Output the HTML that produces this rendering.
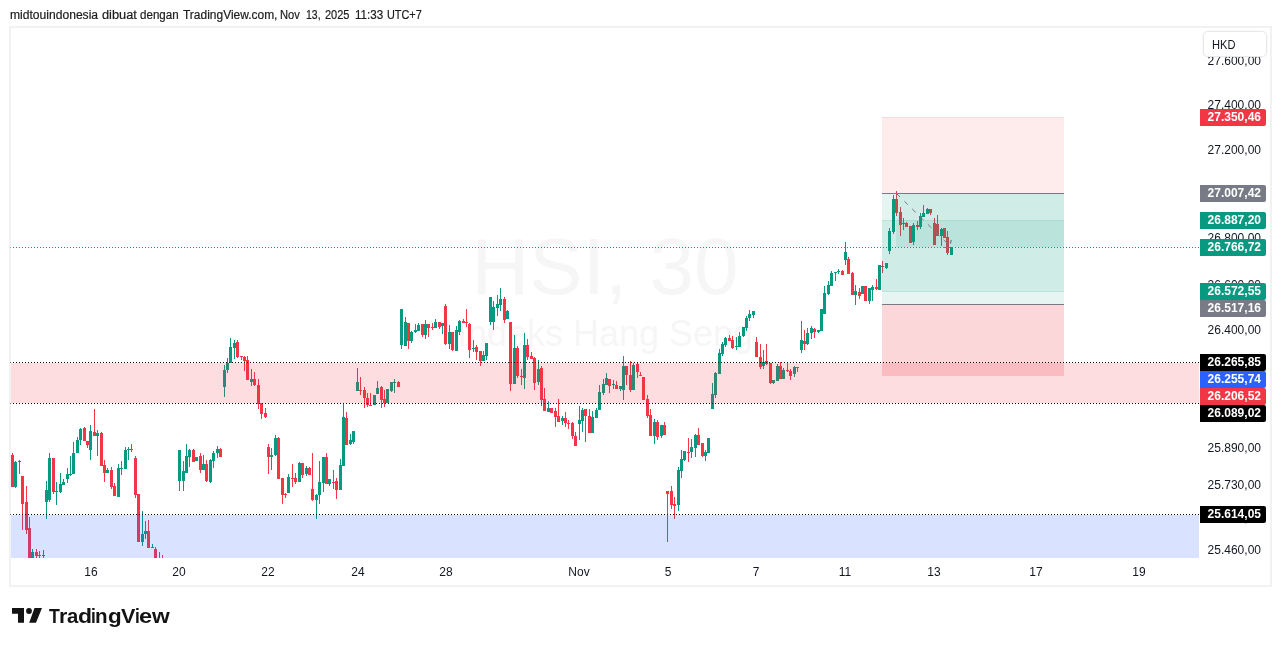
<!DOCTYPE html>
<html><head><meta charset="utf-8"><title>HSI</title>
<style>
*{margin:0;padding:0;box-sizing:border-box}
html,body{width:1281px;height:646px;background:#fff;overflow:hidden}
#hdr,#axis,#cur,.tl,#lt,.wm{will-change:transform}
body{position:relative;font-family:"Liberation Sans",sans-serif;color:#131722}
#hdr{position:absolute;left:10px;top:7px;width:430px;height:16px;font-size:12px;line-height:16px;white-space:nowrap;color:#1c1c1c;-webkit-text-stroke:0.2px #1c1c1c}
#hdr span{position:absolute;top:0;transform-origin:0 0;display:block}
#frame{position:absolute;left:9px;top:26px;width:1263px;height:561px;border:2px solid #f2f2f2;background:#fff}
#pane{position:absolute;left:11px;top:28px;width:1188px;height:530px;overflow:hidden}
#pane svg{position:absolute;left:-11px;top:-28px}
.wm{position:absolute;left:0;width:1188px;text-align:center;color:#f6f6f6;white-space:nowrap}
#wm1{top:194.3px;left:-0.5px;font-size:80px;line-height:90px}
#wm2{top:285.6px;left:-0.5px;font-size:36px;line-height:40px}
#axis{position:absolute;left:1199px;top:28px;width:71px;height:530px;overflow:hidden}
.pl{position:absolute;left:8.6px;font-size:12px;line-height:14px;height:14px;white-space:nowrap}
.bl{position:absolute;left:1px;width:66px;height:17px;border-radius:0 2px 2px 0;color:#fff;font-weight:bold;font-size:12px;line-height:16px;padding-left:7.6px;white-space:nowrap}
#cur{position:absolute;left:1203px;top:31px;width:64px;height:26px;box-shadow:0 0 0 1px rgba(0,0,0,0.025);border:1px solid #e9e9e9;border-radius:5px;background:#fff;font-size:12px;color:#131722}
#cur span{position:absolute;left:7.9px;top:5.5px;line-height:14px;transform-origin:0 0;transform:scaleX(0.926);display:block}
.tl{position:absolute;top:565px;width:40px;margin-left:-20px;text-align:center;font-size:12px;line-height:14px}
#logo{position:absolute;left:0;top:0}
#lt{position:absolute;left:0;top:603.5px;width:200px;height:24px;font-size:20.5px;line-height:24px;font-weight:bold;color:#131313;white-space:nowrap}
#lt span{position:absolute;top:0;display:block;transform-origin:0 0}
</style></head><body>

<div id="hdr">
<span style="left:-0.26px;transform:scaleX(1.0077)">midtouindonesia</span>
<span style="left:92.27px;transform:scaleX(1.0648)">dibuat</span>
<span style="left:130.42px;transform:scaleX(0.9652)">dengan</span>
<span style="left:172.75px;transform:scaleX(0.9971)">TradingView.com,</span>
<span style="left:270.47px;transform:scaleX(0.9284)">Nov</span>
<span style="left:296.43px;transform:scaleX(0.8752)">13,</span>
<span style="left:315.33px;transform:scaleX(0.9169)">2025</span>
<span style="left:344.95px;transform:scaleX(0.9697)">11:33</span>
<span style="left:377.20px;transform:scaleX(0.9059)">UTC+7</span>
</div>
<div id="frame"></div>
<div id="pane">
<div class="wm" id="wm1">HSI, 30</div><div class="wm" id="wm2">Indeks Hang Seng</div>
<svg width="1281" height="646" viewBox="0 0 1281 646" shape-rendering="crispEdges">
<rect x="12" y="453.1" width="1" height="33.6" fill="#F23645"/>
<rect x="11" y="454.6" width="3" height="32.0" fill="#F23645"/>
<rect x="15" y="460.9" width="1" height="26.9" fill="#089981"/>
<rect x="14" y="461.7" width="3" height="25.4" fill="#089981"/>
<rect x="19" y="459.8" width="1" height="13.9" fill="#089981"/>
<rect x="18" y="460.6" width="3" height="1.0" fill="#089981"/>
<rect x="22" y="476.0" width="1" height="53.6" fill="#F23645"/>
<rect x="21" y="476.0" width="3" height="27.5" fill="#F23645"/>
<rect x="26" y="485.9" width="1" height="47.8" fill="#F23645"/>
<rect x="25" y="502.0" width="3" height="27.6" fill="#F23645"/>
<rect x="29" y="516.8" width="1" height="46.8" fill="#F23645"/>
<rect x="28" y="528.1" width="3" height="35.6" fill="#F23645"/>
<rect x="32" y="548.8" width="1" height="14.8" fill="#089981"/>
<rect x="31" y="552.0" width="3" height="11.7" fill="#089981"/>
<rect x="36" y="548.8" width="1" height="14.8" fill="#F23645"/>
<rect x="35" y="552.0" width="3" height="3.6" fill="#F23645"/>
<rect x="39" y="551.2" width="1" height="12.5" fill="#F23645"/>
<rect x="38" y="554.8" width="3" height="1.0" fill="#F23645"/>
<rect x="43" y="549.9" width="1" height="13.7" fill="#089981"/>
<rect x="42" y="555.1" width="3" height="1.0" fill="#089981"/>
<rect x="46" y="481.2" width="1" height="37.5" fill="#089981"/>
<rect x="45" y="489.8" width="3" height="11.9" fill="#089981"/>
<rect x="49" y="453.1" width="1" height="48.6" fill="#089981"/>
<rect x="48" y="458.1" width="3" height="41.6" fill="#089981"/>
<rect x="53" y="458.1" width="1" height="35.6" fill="#F23645"/>
<rect x="52" y="458.1" width="3" height="34.0" fill="#F23645"/>
<rect x="56" y="482.0" width="1" height="22.7" fill="#089981"/>
<rect x="55" y="490.6" width="3" height="1.1" fill="#089981"/>
<rect x="60" y="473.1" width="1" height="19.8" fill="#089981"/>
<rect x="59" y="484.0" width="3" height="8.1" fill="#089981"/>
<rect x="63" y="479.2" width="1" height="5.5" fill="#089981"/>
<rect x="62" y="482.0" width="3" height="2.7" fill="#089981"/>
<rect x="67" y="468.2" width="1" height="14.5" fill="#089981"/>
<rect x="66" y="474.2" width="3" height="4.4" fill="#089981"/>
<rect x="70" y="456.2" width="1" height="19.5" fill="#089981"/>
<rect x="69" y="473.7" width="3" height="1.2" fill="#089981"/>
<rect x="73" y="442.2" width="1" height="31.5" fill="#089981"/>
<rect x="72" y="453.1" width="3" height="20.6" fill="#089981"/>
<rect x="77" y="437.2" width="1" height="15.5" fill="#089981"/>
<rect x="76" y="439.8" width="3" height="12.8" fill="#089981"/>
<rect x="80" y="427.8" width="1" height="16.7" fill="#089981"/>
<rect x="79" y="428.6" width="3" height="11.7" fill="#089981"/>
<rect x="84" y="426.9" width="1" height="13.7" fill="#F23645"/>
<rect x="83" y="427.8" width="3" height="12.8" fill="#F23645"/>
<rect x="87" y="440.6" width="1" height="7.0" fill="#F23645"/>
<rect x="86" y="440.6" width="3" height="4.4" fill="#F23645"/>
<rect x="90" y="425.0" width="1" height="34.7" fill="#089981"/>
<rect x="89" y="430.9" width="3" height="18.7" fill="#089981"/>
<rect x="94" y="409.1" width="1" height="26.5" fill="#F23645"/>
<rect x="93" y="432.0" width="3" height="3.6" fill="#F23645"/>
<rect x="97" y="430.0" width="1" height="25.8" fill="#089981"/>
<rect x="96" y="433.1" width="3" height="2.5" fill="#089981"/>
<rect x="101" y="431.7" width="1" height="33.9" fill="#F23645"/>
<rect x="100" y="432.5" width="3" height="33.1" fill="#F23645"/>
<rect x="104" y="460.1" width="1" height="21.5" fill="#F23645"/>
<rect x="103" y="465.3" width="3" height="7.3" fill="#F23645"/>
<rect x="107" y="467.9" width="1" height="4.7" fill="#089981"/>
<rect x="106" y="469.9" width="3" height="2.7" fill="#089981"/>
<rect x="111" y="467.1" width="1" height="21.5" fill="#F23645"/>
<rect x="110" y="469.8" width="3" height="16.9" fill="#F23645"/>
<rect x="114" y="482.7" width="1" height="12.8" fill="#F23645"/>
<rect x="113" y="485.9" width="3" height="9.7" fill="#F23645"/>
<rect x="118" y="464.0" width="1" height="32.8" fill="#089981"/>
<rect x="117" y="467.9" width="3" height="28.9" fill="#089981"/>
<rect x="121" y="460.9" width="1" height="13.7" fill="#089981"/>
<rect x="120" y="467.9" width="3" height="1.0" fill="#089981"/>
<rect x="125" y="446.8" width="1" height="21.9" fill="#089981"/>
<rect x="124" y="450.0" width="3" height="18.7" fill="#089981"/>
<rect x="128" y="446.8" width="1" height="12.8" fill="#089981"/>
<rect x="127" y="448.9" width="3" height="1.4" fill="#089981"/>
<rect x="131" y="444.0" width="1" height="7.5" fill="#F23645"/>
<rect x="130" y="449.2" width="3" height="1.0" fill="#F23645"/>
<rect x="135" y="455.9" width="1" height="41.7" fill="#F23645"/>
<rect x="134" y="457.8" width="3" height="36.7" fill="#F23645"/>
<rect x="138" y="494.0" width="1" height="47.8" fill="#F23645"/>
<rect x="137" y="494.0" width="3" height="47.8" fill="#F23645"/>
<rect x="142" y="511.1" width="1" height="35.0" fill="#089981"/>
<rect x="141" y="534.0" width="3" height="7.8" fill="#089981"/>
<rect x="145" y="520.7" width="1" height="18.0" fill="#089981"/>
<rect x="144" y="531.2" width="3" height="2.8" fill="#089981"/>
<rect x="148" y="520.0" width="1" height="27.6" fill="#F23645"/>
<rect x="147" y="531.2" width="3" height="16.4" fill="#F23645"/>
<rect x="152" y="544.2" width="1" height="3.6" fill="#089981"/>
<rect x="151" y="546.8" width="3" height="1.0" fill="#089981"/>
<rect x="155" y="546.8" width="1" height="16.9" fill="#F23645"/>
<rect x="154" y="548.8" width="3" height="14.8" fill="#F23645"/>
<rect x="159" y="552.0" width="1" height="48.0" fill="#089981"/>
<rect x="158" y="600.0" width="3" height="1.0" fill="#089981"/>
<rect x="162" y="554.8" width="1" height="45.2" fill="#F23645"/>
<rect x="161" y="600.0" width="3" height="1.0" fill="#F23645"/>
<rect x="179" y="450.0" width="1" height="40.6" fill="#089981"/>
<rect x="178" y="450.0" width="3" height="30.8" fill="#089981"/>
<rect x="183" y="460.9" width="1" height="29.7" fill="#089981"/>
<rect x="182" y="471.0" width="3" height="9.7" fill="#089981"/>
<rect x="186" y="444.2" width="1" height="28.4" fill="#089981"/>
<rect x="185" y="456.2" width="3" height="16.4" fill="#089981"/>
<rect x="189" y="448.7" width="1" height="18.1" fill="#089981"/>
<rect x="188" y="450.0" width="3" height="6.6" fill="#089981"/>
<rect x="193" y="448.7" width="1" height="13.0" fill="#F23645"/>
<rect x="192" y="450.0" width="3" height="11.7" fill="#F23645"/>
<rect x="196" y="457.3" width="1" height="4.1" fill="#089981"/>
<rect x="195" y="457.3" width="3" height="4.1" fill="#089981"/>
<rect x="200" y="453.1" width="1" height="19.5" fill="#F23645"/>
<rect x="199" y="455.9" width="3" height="13.6" fill="#F23645"/>
<rect x="203" y="455.0" width="1" height="14.5" fill="#089981"/>
<rect x="202" y="464.0" width="3" height="5.5" fill="#089981"/>
<rect x="206" y="460.1" width="1" height="22.3" fill="#F23645"/>
<rect x="205" y="464.0" width="3" height="17.2" fill="#F23645"/>
<rect x="210" y="459.0" width="1" height="23.7" fill="#089981"/>
<rect x="209" y="460.3" width="3" height="21.7" fill="#089981"/>
<rect x="213" y="450.9" width="1" height="16.7" fill="#089981"/>
<rect x="212" y="452.8" width="3" height="7.8" fill="#089981"/>
<rect x="217" y="446.1" width="1" height="11.9" fill="#089981"/>
<rect x="216" y="448.9" width="3" height="3.9" fill="#089981"/>
<rect x="220" y="447.8" width="1" height="8.9" fill="#F23645"/>
<rect x="219" y="448.9" width="3" height="7.8" fill="#F23645"/>
<rect x="224" y="365.1" width="1" height="31.7" fill="#089981"/>
<rect x="223" y="370.3" width="3" height="16.2" fill="#089981"/>
<rect x="227" y="358.1" width="1" height="14.4" fill="#089981"/>
<rect x="226" y="362.8" width="3" height="7.0" fill="#089981"/>
<rect x="230" y="337.8" width="1" height="25.4" fill="#089981"/>
<rect x="229" y="347.2" width="3" height="16.1" fill="#089981"/>
<rect x="234" y="340.1" width="1" height="18.7" fill="#089981"/>
<rect x="233" y="343.3" width="3" height="4.2" fill="#089981"/>
<rect x="237" y="340.1" width="1" height="18.0" fill="#F23645"/>
<rect x="236" y="341.7" width="3" height="15.6" fill="#F23645"/>
<rect x="241" y="356.2" width="1" height="3.4" fill="#F23645"/>
<rect x="240" y="356.2" width="3" height="1.0" fill="#F23645"/>
<rect x="244" y="356.2" width="1" height="14.7" fill="#F23645"/>
<rect x="243" y="356.9" width="3" height="3.6" fill="#F23645"/>
<rect x="247" y="356.2" width="1" height="24.2" fill="#F23645"/>
<rect x="246" y="360.4" width="3" height="20.0" fill="#F23645"/>
<rect x="251" y="369.0" width="1" height="16.7" fill="#089981"/>
<rect x="250" y="379.2" width="3" height="2.3" fill="#089981"/>
<rect x="254" y="372.2" width="1" height="13.6" fill="#F23645"/>
<rect x="253" y="379.2" width="3" height="5.8" fill="#F23645"/>
<rect x="258" y="379.2" width="1" height="29.4" fill="#F23645"/>
<rect x="257" y="384.6" width="3" height="19.0" fill="#F23645"/>
<rect x="261" y="403.4" width="1" height="15.3" fill="#F23645"/>
<rect x="260" y="403.4" width="3" height="10.6" fill="#F23645"/>
<rect x="265" y="408.1" width="1" height="9.4" fill="#F23645"/>
<rect x="264" y="413.2" width="3" height="4.2" fill="#F23645"/>
<rect x="268" y="444.2" width="1" height="29.7" fill="#F23645"/>
<rect x="267" y="446.9" width="3" height="9.8" fill="#F23645"/>
<rect x="271" y="448.1" width="1" height="21.9" fill="#089981"/>
<rect x="270" y="455.4" width="3" height="1.2" fill="#089981"/>
<rect x="275" y="435.1" width="1" height="20.5" fill="#089981"/>
<rect x="274" y="438.0" width="3" height="16.7" fill="#089981"/>
<rect x="278" y="436.9" width="1" height="41.7" fill="#F23645"/>
<rect x="277" y="438.0" width="3" height="40.6" fill="#F23645"/>
<rect x="282" y="478.1" width="1" height="25.8" fill="#F23645"/>
<rect x="281" y="478.1" width="3" height="16.5" fill="#F23645"/>
<rect x="285" y="492.6" width="1" height="5.0" fill="#F23645"/>
<rect x="284" y="493.7" width="3" height="1.0" fill="#F23645"/>
<rect x="288" y="474.2" width="1" height="18.4" fill="#089981"/>
<rect x="287" y="477.0" width="3" height="15.6" fill="#089981"/>
<rect x="292" y="464.0" width="1" height="22.8" fill="#F23645"/>
<rect x="291" y="477.5" width="3" height="1.2" fill="#F23645"/>
<rect x="295" y="473.1" width="1" height="11.2" fill="#F23645"/>
<rect x="294" y="478.1" width="3" height="3.6" fill="#F23645"/>
<rect x="299" y="461.8" width="1" height="19.8" fill="#089981"/>
<rect x="298" y="462.9" width="3" height="18.7" fill="#089981"/>
<rect x="302" y="463.2" width="1" height="14.5" fill="#F23645"/>
<rect x="301" y="463.2" width="3" height="11.4" fill="#F23645"/>
<rect x="306" y="466.1" width="1" height="9.4" fill="#089981"/>
<rect x="305" y="468.1" width="3" height="5.8" fill="#089981"/>
<rect x="309" y="467.2" width="1" height="7.5" fill="#F23645"/>
<rect x="308" y="468.1" width="3" height="6.6" fill="#F23645"/>
<rect x="312" y="453.1" width="1" height="47.8" fill="#F23645"/>
<rect x="311" y="489.0" width="3" height="10.9" fill="#F23645"/>
<rect x="316" y="493.7" width="1" height="25.0" fill="#089981"/>
<rect x="315" y="494.9" width="3" height="5.0" fill="#089981"/>
<rect x="319" y="461.1" width="1" height="42.8" fill="#089981"/>
<rect x="318" y="482.1" width="3" height="12.8" fill="#089981"/>
<rect x="323" y="457.2" width="1" height="34.7" fill="#089981"/>
<rect x="322" y="457.2" width="3" height="25.6" fill="#089981"/>
<rect x="326" y="453.1" width="1" height="30.6" fill="#F23645"/>
<rect x="325" y="457.2" width="3" height="26.5" fill="#F23645"/>
<rect x="329" y="479.3" width="1" height="6.6" fill="#089981"/>
<rect x="328" y="479.3" width="3" height="4.4" fill="#089981"/>
<rect x="333" y="470.0" width="1" height="19.0" fill="#F23645"/>
<rect x="332" y="482.0" width="3" height="1.0" fill="#F23645"/>
<rect x="336" y="478.1" width="1" height="20.8" fill="#F23645"/>
<rect x="335" y="480.9" width="3" height="8.9" fill="#F23645"/>
<rect x="340" y="459.0" width="1" height="30.8" fill="#089981"/>
<rect x="339" y="465.3" width="3" height="24.5" fill="#089981"/>
<rect x="343" y="403.4" width="1" height="62.2" fill="#089981"/>
<rect x="342" y="417.1" width="3" height="48.5" fill="#089981"/>
<rect x="346" y="412.0" width="1" height="32.5" fill="#F23645"/>
<rect x="345" y="418.2" width="3" height="26.3" fill="#F23645"/>
<rect x="350" y="434.1" width="1" height="10.9" fill="#089981"/>
<rect x="349" y="440.3" width="3" height="3.9" fill="#089981"/>
<rect x="353" y="431.2" width="1" height="12.5" fill="#089981"/>
<rect x="352" y="431.2" width="3" height="10.3" fill="#089981"/>
<rect x="357" y="367.9" width="1" height="23.0" fill="#089981"/>
<rect x="356" y="382.3" width="3" height="8.6" fill="#089981"/>
<rect x="360" y="376.8" width="1" height="18.0" fill="#F23645"/>
<rect x="359" y="389.6" width="3" height="1.0" fill="#F23645"/>
<rect x="364" y="387.0" width="1" height="20.8" fill="#F23645"/>
<rect x="363" y="390.1" width="3" height="8.3" fill="#F23645"/>
<rect x="367" y="392.9" width="1" height="14.4" fill="#F23645"/>
<rect x="366" y="397.9" width="3" height="7.3" fill="#F23645"/>
<rect x="370" y="392.9" width="1" height="12.8" fill="#F23645"/>
<rect x="369" y="404.9" width="3" height="1.0" fill="#F23645"/>
<rect x="374" y="395.3" width="1" height="9.4" fill="#089981"/>
<rect x="373" y="395.3" width="3" height="9.4" fill="#089981"/>
<rect x="377" y="381.1" width="1" height="12.5" fill="#089981"/>
<rect x="376" y="388.1" width="3" height="5.5" fill="#089981"/>
<rect x="381" y="385.9" width="1" height="21.9" fill="#F23645"/>
<rect x="380" y="387.0" width="3" height="12.5" fill="#F23645"/>
<rect x="384" y="390.1" width="1" height="16.4" fill="#F23645"/>
<rect x="383" y="398.7" width="3" height="3.9" fill="#F23645"/>
<rect x="387" y="389.0" width="1" height="13.9" fill="#089981"/>
<rect x="386" y="389.0" width="3" height="13.9" fill="#089981"/>
<rect x="391" y="382.3" width="1" height="9.4" fill="#089981"/>
<rect x="390" y="382.3" width="3" height="8.6" fill="#089981"/>
<rect x="394" y="378.9" width="1" height="13.9" fill="#089981"/>
<rect x="393" y="382.1" width="3" height="1.0" fill="#089981"/>
<rect x="398" y="380.7" width="1" height="5.8" fill="#F23645"/>
<rect x="397" y="382.0" width="3" height="4.5" fill="#F23645"/>
<rect x="401" y="308.9" width="1" height="39.8" fill="#089981"/>
<rect x="400" y="308.9" width="3" height="35.9" fill="#089981"/>
<rect x="405" y="317.2" width="1" height="28.4" fill="#089981"/>
<rect x="404" y="321.8" width="3" height="23.7" fill="#089981"/>
<rect x="408" y="322.9" width="1" height="25.8" fill="#F23645"/>
<rect x="407" y="322.9" width="3" height="18.0" fill="#F23645"/>
<rect x="411" y="330.7" width="1" height="12.5" fill="#089981"/>
<rect x="410" y="332.0" width="3" height="8.9" fill="#089981"/>
<rect x="415" y="324.2" width="1" height="8.4" fill="#089981"/>
<rect x="414" y="330.0" width="3" height="1.6" fill="#089981"/>
<rect x="418" y="322.9" width="1" height="7.8" fill="#089981"/>
<rect x="417" y="325.0" width="3" height="5.8" fill="#089981"/>
<rect x="422" y="324.2" width="1" height="12.3" fill="#F23645"/>
<rect x="421" y="324.2" width="3" height="10.8" fill="#F23645"/>
<rect x="425" y="320.1" width="1" height="18.4" fill="#089981"/>
<rect x="424" y="324.2" width="3" height="10.5" fill="#089981"/>
<rect x="428" y="324.2" width="1" height="12.3" fill="#F23645"/>
<rect x="427" y="324.2" width="3" height="3.9" fill="#F23645"/>
<rect x="432" y="322.9" width="1" height="6.7" fill="#F23645"/>
<rect x="431" y="326.7" width="3" height="1.0" fill="#F23645"/>
<rect x="435" y="319.0" width="1" height="8.6" fill="#089981"/>
<rect x="434" y="321.8" width="3" height="5.8" fill="#089981"/>
<rect x="439" y="322.2" width="1" height="6.6" fill="#F23645"/>
<rect x="438" y="322.2" width="3" height="4.7" fill="#F23645"/>
<rect x="442" y="323.2" width="1" height="10.6" fill="#089981"/>
<rect x="441" y="323.2" width="3" height="2.5" fill="#089981"/>
<rect x="445" y="304.2" width="1" height="40.6" fill="#F23645"/>
<rect x="444" y="305.8" width="3" height="38.3" fill="#F23645"/>
<rect x="449" y="325.3" width="1" height="23.4" fill="#089981"/>
<rect x="448" y="332.3" width="3" height="11.4" fill="#089981"/>
<rect x="452" y="332.3" width="1" height="18.4" fill="#F23645"/>
<rect x="451" y="332.3" width="3" height="17.6" fill="#F23645"/>
<rect x="456" y="326.1" width="1" height="24.7" fill="#089981"/>
<rect x="455" y="330.0" width="3" height="20.8" fill="#089981"/>
<rect x="459" y="319.8" width="1" height="14.8" fill="#089981"/>
<rect x="458" y="320.9" width="3" height="10.6" fill="#089981"/>
<rect x="463" y="319.0" width="1" height="3.4" fill="#F23645"/>
<rect x="462" y="320.9" width="3" height="1.6" fill="#F23645"/>
<rect x="466" y="308.9" width="1" height="17.6" fill="#F23645"/>
<rect x="465" y="321.7" width="3" height="1.0" fill="#F23645"/>
<rect x="469" y="322.9" width="1" height="34.7" fill="#F23645"/>
<rect x="468" y="323.7" width="3" height="26.1" fill="#F23645"/>
<rect x="473" y="340.1" width="1" height="11.7" fill="#089981"/>
<rect x="472" y="347.8" width="3" height="1.0" fill="#089981"/>
<rect x="476" y="345.3" width="1" height="14.4" fill="#F23645"/>
<rect x="475" y="347.4" width="3" height="4.4" fill="#F23645"/>
<rect x="480" y="351.0" width="1" height="14.5" fill="#F23645"/>
<rect x="479" y="351.0" width="3" height="9.8" fill="#F23645"/>
<rect x="483" y="351.0" width="1" height="10.1" fill="#089981"/>
<rect x="482" y="354.9" width="3" height="6.2" fill="#089981"/>
<rect x="486" y="342.9" width="1" height="17.2" fill="#089981"/>
<rect x="485" y="342.9" width="3" height="12.8" fill="#089981"/>
<rect x="490" y="297.2" width="1" height="27.3" fill="#089981"/>
<rect x="489" y="297.2" width="3" height="24.7" fill="#089981"/>
<rect x="493" y="301.1" width="1" height="28.6" fill="#089981"/>
<rect x="492" y="307.3" width="3" height="15.1" fill="#089981"/>
<rect x="497" y="295.1" width="1" height="20.5" fill="#089981"/>
<rect x="496" y="304.2" width="3" height="3.6" fill="#089981"/>
<rect x="500" y="288.1" width="1" height="22.6" fill="#089981"/>
<rect x="499" y="299.0" width="3" height="5.6" fill="#089981"/>
<rect x="504" y="297.2" width="1" height="25.4" fill="#F23645"/>
<rect x="503" y="298.7" width="3" height="21.1" fill="#F23645"/>
<rect x="507" y="310.0" width="1" height="9.4" fill="#089981"/>
<rect x="506" y="310.9" width="3" height="8.4" fill="#089981"/>
<rect x="510" y="322.2" width="1" height="68.6" fill="#F23645"/>
<rect x="509" y="322.2" width="3" height="61.6" fill="#F23645"/>
<rect x="514" y="335.0" width="1" height="48.8" fill="#089981"/>
<rect x="513" y="347.9" width="3" height="35.8" fill="#089981"/>
<rect x="517" y="345.9" width="1" height="32.1" fill="#F23645"/>
<rect x="516" y="347.6" width="3" height="28.3" fill="#F23645"/>
<rect x="521" y="369.1" width="1" height="15.6" fill="#F23645"/>
<rect x="520" y="375.6" width="3" height="1.6" fill="#F23645"/>
<rect x="524" y="333.1" width="1" height="55.8" fill="#089981"/>
<rect x="523" y="345.3" width="3" height="32.2" fill="#089981"/>
<rect x="527" y="339.0" width="1" height="20.6" fill="#F23645"/>
<rect x="526" y="345.3" width="3" height="11.2" fill="#F23645"/>
<rect x="531" y="351.8" width="1" height="7.0" fill="#F23645"/>
<rect x="530" y="355.7" width="3" height="3.1" fill="#F23645"/>
<rect x="534" y="356.8" width="1" height="32.8" fill="#F23645"/>
<rect x="533" y="358.1" width="3" height="24.6" fill="#F23645"/>
<rect x="538" y="359.9" width="1" height="24.7" fill="#089981"/>
<rect x="537" y="369.0" width="3" height="12.9" fill="#089981"/>
<rect x="541" y="365.9" width="1" height="39.7" fill="#F23645"/>
<rect x="540" y="367.8" width="3" height="32.0" fill="#F23645"/>
<rect x="544" y="388.1" width="1" height="23.1" fill="#F23645"/>
<rect x="543" y="399.0" width="3" height="12.2" fill="#F23645"/>
<rect x="548" y="400.9" width="1" height="10.6" fill="#089981"/>
<rect x="547" y="408.1" width="3" height="3.4" fill="#089981"/>
<rect x="551" y="408.1" width="1" height="4.5" fill="#F23645"/>
<rect x="550" y="408.1" width="3" height="4.5" fill="#F23645"/>
<rect x="555" y="408.1" width="1" height="18.6" fill="#F23645"/>
<rect x="554" y="410.7" width="3" height="5.8" fill="#F23645"/>
<rect x="558" y="399.0" width="1" height="22.6" fill="#F23645"/>
<rect x="557" y="415.9" width="3" height="5.8" fill="#F23645"/>
<rect x="562" y="415.9" width="1" height="8.9" fill="#089981"/>
<rect x="561" y="418.1" width="3" height="3.3" fill="#089981"/>
<rect x="565" y="412.0" width="1" height="14.7" fill="#F23645"/>
<rect x="564" y="418.1" width="3" height="4.7" fill="#F23645"/>
<rect x="568" y="420.1" width="1" height="8.6" fill="#F23645"/>
<rect x="567" y="422.8" width="3" height="1.0" fill="#F23645"/>
<rect x="572" y="422.0" width="1" height="16.9" fill="#F23645"/>
<rect x="571" y="422.9" width="3" height="12.8" fill="#F23645"/>
<rect x="575" y="431.8" width="1" height="13.7" fill="#F23645"/>
<rect x="574" y="435.7" width="3" height="9.8" fill="#F23645"/>
<rect x="579" y="406.1" width="1" height="33.6" fill="#089981"/>
<rect x="578" y="420.1" width="3" height="3.6" fill="#089981"/>
<rect x="582" y="408.1" width="1" height="23.7" fill="#089981"/>
<rect x="581" y="410.0" width="3" height="11.4" fill="#089981"/>
<rect x="585" y="409.2" width="1" height="32.5" fill="#F23645"/>
<rect x="584" y="409.2" width="3" height="6.6" fill="#F23645"/>
<rect x="589" y="409.2" width="1" height="23.4" fill="#F23645"/>
<rect x="588" y="415.9" width="3" height="16.7" fill="#F23645"/>
<rect x="592" y="411.0" width="1" height="21.9" fill="#089981"/>
<rect x="591" y="417.3" width="3" height="15.6" fill="#089981"/>
<rect x="596" y="407.9" width="1" height="9.7" fill="#089981"/>
<rect x="595" y="409.9" width="3" height="7.7" fill="#089981"/>
<rect x="599" y="385.0" width="1" height="24.8" fill="#089981"/>
<rect x="598" y="392.3" width="3" height="17.5" fill="#089981"/>
<rect x="603" y="379.0" width="1" height="15.9" fill="#089981"/>
<rect x="602" y="384.2" width="3" height="8.9" fill="#089981"/>
<rect x="606" y="372.8" width="1" height="12.5" fill="#089981"/>
<rect x="605" y="378.3" width="3" height="7.0" fill="#089981"/>
<rect x="609" y="378.7" width="1" height="13.9" fill="#F23645"/>
<rect x="608" y="378.7" width="3" height="7.0" fill="#F23645"/>
<rect x="613" y="379.8" width="1" height="8.9" fill="#089981"/>
<rect x="612" y="384.0" width="3" height="1.0" fill="#089981"/>
<rect x="616" y="380.9" width="1" height="7.8" fill="#F23645"/>
<rect x="615" y="385.3" width="3" height="3.4" fill="#F23645"/>
<rect x="620" y="386.1" width="1" height="4.7" fill="#089981"/>
<rect x="619" y="386.1" width="3" height="2.7" fill="#089981"/>
<rect x="623" y="355.9" width="1" height="43.9" fill="#089981"/>
<rect x="622" y="365.8" width="3" height="23.9" fill="#089981"/>
<rect x="626" y="366.2" width="1" height="18.3" fill="#F23645"/>
<rect x="625" y="366.2" width="3" height="8.4" fill="#F23645"/>
<rect x="630" y="361.1" width="1" height="30.8" fill="#F23645"/>
<rect x="629" y="375.1" width="3" height="15.1" fill="#F23645"/>
<rect x="633" y="363.4" width="1" height="26.2" fill="#089981"/>
<rect x="632" y="364.7" width="3" height="25.0" fill="#089981"/>
<rect x="637" y="362.3" width="1" height="15.5" fill="#F23645"/>
<rect x="636" y="364.2" width="3" height="7.8" fill="#F23645"/>
<rect x="640" y="372.0" width="1" height="4.1" fill="#F23645"/>
<rect x="639" y="375.1" width="3" height="1.0" fill="#F23645"/>
<rect x="643" y="377.0" width="1" height="22.6" fill="#F23645"/>
<rect x="642" y="377.0" width="3" height="22.6" fill="#F23645"/>
<rect x="647" y="395.0" width="1" height="22.8" fill="#F23645"/>
<rect x="646" y="399.0" width="3" height="16.7" fill="#F23645"/>
<rect x="650" y="409.2" width="1" height="26.4" fill="#F23645"/>
<rect x="649" y="415.3" width="3" height="20.3" fill="#F23645"/>
<rect x="654" y="418.8" width="1" height="24.9" fill="#089981"/>
<rect x="653" y="421.5" width="3" height="14.1" fill="#089981"/>
<rect x="657" y="419.6" width="1" height="20.2" fill="#F23645"/>
<rect x="656" y="422.0" width="3" height="14.7" fill="#F23645"/>
<rect x="661" y="424.8" width="1" height="12.8" fill="#089981"/>
<rect x="660" y="424.8" width="3" height="10.8" fill="#089981"/>
<rect x="664" y="422.0" width="1" height="12.5" fill="#F23645"/>
<rect x="663" y="424.8" width="3" height="9.7" fill="#F23645"/>
<rect x="667" y="491.4" width="1" height="50.7" fill="#F23645"/>
<rect x="666" y="491.4" width="3" height="2.3" fill="#F23645"/>
<rect x="671" y="486.2" width="1" height="22.6" fill="#F23645"/>
<rect x="670" y="491.4" width="3" height="13.3" fill="#F23645"/>
<rect x="674" y="497.1" width="1" height="21.5" fill="#F23645"/>
<rect x="673" y="504.2" width="3" height="1.6" fill="#F23645"/>
<rect x="678" y="467.2" width="1" height="43.4" fill="#089981"/>
<rect x="677" y="470.3" width="3" height="34.3" fill="#089981"/>
<rect x="681" y="450.0" width="1" height="27.6" fill="#089981"/>
<rect x="680" y="459.0" width="3" height="11.6" fill="#089981"/>
<rect x="684" y="451.2" width="1" height="9.7" fill="#089981"/>
<rect x="683" y="451.2" width="3" height="8.4" fill="#089981"/>
<rect x="688" y="438.3" width="1" height="23.4" fill="#F23645"/>
<rect x="687" y="451.9" width="3" height="1.0" fill="#F23645"/>
<rect x="691" y="439.1" width="1" height="18.7" fill="#089981"/>
<rect x="690" y="447.2" width="3" height="4.4" fill="#089981"/>
<rect x="695" y="434.1" width="1" height="22.6" fill="#089981"/>
<rect x="694" y="435.1" width="3" height="12.5" fill="#089981"/>
<rect x="698" y="428.1" width="1" height="16.4" fill="#F23645"/>
<rect x="697" y="435.1" width="3" height="9.4" fill="#F23645"/>
<rect x="702" y="443.3" width="1" height="13.4" fill="#F23645"/>
<rect x="701" y="443.3" width="3" height="12.6" fill="#F23645"/>
<rect x="705" y="450.0" width="1" height="10.6" fill="#089981"/>
<rect x="704" y="452.3" width="3" height="3.4" fill="#089981"/>
<rect x="708" y="438.3" width="1" height="14.5" fill="#089981"/>
<rect x="707" y="438.3" width="3" height="14.5" fill="#089981"/>
<rect x="712" y="383.2" width="1" height="26.2" fill="#089981"/>
<rect x="711" y="394.3" width="3" height="15.1" fill="#089981"/>
<rect x="715" y="372.0" width="1" height="25.8" fill="#089981"/>
<rect x="714" y="372.8" width="3" height="21.9" fill="#089981"/>
<rect x="719" y="349.0" width="1" height="24.5" fill="#089981"/>
<rect x="718" y="353.2" width="3" height="20.3" fill="#089981"/>
<rect x="722" y="342.3" width="1" height="13.3" fill="#089981"/>
<rect x="721" y="344.3" width="3" height="9.7" fill="#089981"/>
<rect x="725" y="336.8" width="1" height="9.7" fill="#089981"/>
<rect x="724" y="338.1" width="3" height="6.9" fill="#089981"/>
<rect x="729" y="335.3" width="1" height="5.5" fill="#F23645"/>
<rect x="728" y="338.4" width="3" height="2.3" fill="#F23645"/>
<rect x="732" y="336.1" width="1" height="13.0" fill="#F23645"/>
<rect x="731" y="340.3" width="3" height="7.5" fill="#F23645"/>
<rect x="736" y="336.8" width="1" height="13.0" fill="#089981"/>
<rect x="735" y="345.7" width="3" height="1.0" fill="#089981"/>
<rect x="739" y="331.8" width="1" height="14.7" fill="#089981"/>
<rect x="738" y="335.7" width="3" height="10.8" fill="#089981"/>
<rect x="743" y="327.2" width="1" height="9.7" fill="#089981"/>
<rect x="742" y="327.2" width="3" height="8.9" fill="#089981"/>
<rect x="746" y="316.2" width="1" height="15.1" fill="#089981"/>
<rect x="745" y="317.8" width="3" height="9.7" fill="#089981"/>
<rect x="749" y="310.0" width="1" height="10.8" fill="#089981"/>
<rect x="748" y="314.2" width="3" height="3.9" fill="#089981"/>
<rect x="753" y="311.1" width="1" height="7.0" fill="#089981"/>
<rect x="752" y="311.1" width="3" height="3.9" fill="#089981"/>
<rect x="756" y="336.8" width="1" height="19.8" fill="#F23645"/>
<rect x="755" y="342.3" width="3" height="14.4" fill="#F23645"/>
<rect x="760" y="344.2" width="1" height="24.7" fill="#F23645"/>
<rect x="759" y="357.1" width="3" height="9.7" fill="#F23645"/>
<rect x="763" y="349.8" width="1" height="18.7" fill="#089981"/>
<rect x="762" y="361.5" width="3" height="4.2" fill="#089981"/>
<rect x="766" y="344.2" width="1" height="20.5" fill="#F23645"/>
<rect x="765" y="361.0" width="3" height="2.7" fill="#F23645"/>
<rect x="770" y="363.4" width="1" height="20.3" fill="#F23645"/>
<rect x="769" y="363.4" width="3" height="19.5" fill="#F23645"/>
<rect x="773" y="380.2" width="1" height="3.4" fill="#089981"/>
<rect x="772" y="380.2" width="3" height="2.7" fill="#089981"/>
<rect x="777" y="364.2" width="1" height="17.2" fill="#089981"/>
<rect x="776" y="365.7" width="3" height="15.6" fill="#089981"/>
<rect x="780" y="362.1" width="1" height="16.5" fill="#F23645"/>
<rect x="779" y="366.2" width="3" height="12.5" fill="#F23645"/>
<rect x="783" y="368.1" width="1" height="10.5" fill="#089981"/>
<rect x="782" y="369.9" width="3" height="8.6" fill="#089981"/>
<rect x="787" y="362.6" width="1" height="8.9" fill="#F23645"/>
<rect x="786" y="369.9" width="3" height="1.0" fill="#F23645"/>
<rect x="790" y="368.8" width="1" height="10.9" fill="#F23645"/>
<rect x="789" y="371.2" width="3" height="4.4" fill="#F23645"/>
<rect x="794" y="366.0" width="1" height="11.4" fill="#089981"/>
<rect x="793" y="366.8" width="3" height="7.5" fill="#089981"/>
<rect x="797" y="367.0" width="1" height="5.0" fill="#F23645"/>
<rect x="796" y="367.0" width="3" height="1.0" fill="#F23645"/>
<rect x="801" y="321.2" width="1" height="31.5" fill="#089981"/>
<rect x="800" y="340.3" width="3" height="9.8" fill="#089981"/>
<rect x="804" y="330.1" width="1" height="19.7" fill="#F23645"/>
<rect x="803" y="341.2" width="3" height="2.7" fill="#F23645"/>
<rect x="807" y="327.9" width="1" height="16.7" fill="#089981"/>
<rect x="806" y="332.9" width="3" height="10.9" fill="#089981"/>
<rect x="811" y="325.9" width="1" height="12.8" fill="#089981"/>
<rect x="810" y="327.9" width="3" height="5.0" fill="#089981"/>
<rect x="814" y="327.9" width="1" height="9.7" fill="#F23645"/>
<rect x="813" y="329.0" width="3" height="2.8" fill="#F23645"/>
<rect x="818" y="330.3" width="1" height="2.3" fill="#089981"/>
<rect x="817" y="330.3" width="3" height="1.6" fill="#089981"/>
<rect x="821" y="309.0" width="1" height="21.9" fill="#089981"/>
<rect x="820" y="309.0" width="3" height="21.9" fill="#089981"/>
<rect x="824" y="286.0" width="1" height="27.8" fill="#089981"/>
<rect x="823" y="293.1" width="3" height="20.8" fill="#089981"/>
<rect x="828" y="281.0" width="1" height="13.7" fill="#089981"/>
<rect x="827" y="284.9" width="3" height="8.9" fill="#089981"/>
<rect x="831" y="270.9" width="1" height="14.8" fill="#089981"/>
<rect x="830" y="272.5" width="3" height="13.3" fill="#089981"/>
<rect x="835" y="272.0" width="1" height="8.6" fill="#089981"/>
<rect x="834" y="272.0" width="3" height="1.0" fill="#089981"/>
<rect x="838" y="269.0" width="1" height="5.3" fill="#089981"/>
<rect x="837" y="270.6" width="3" height="1.6" fill="#089981"/>
<rect x="842" y="269.8" width="1" height="4.7" fill="#F23645"/>
<rect x="841" y="270.9" width="3" height="3.6" fill="#F23645"/>
<rect x="845" y="242.0" width="1" height="22.6" fill="#089981"/>
<rect x="844" y="251.8" width="3" height="8.1" fill="#089981"/>
<rect x="848" y="256.8" width="1" height="17.6" fill="#F23645"/>
<rect x="847" y="258.7" width="3" height="15.0" fill="#F23645"/>
<rect x="852" y="272.0" width="1" height="22.6" fill="#F23645"/>
<rect x="851" y="272.8" width="3" height="21.9" fill="#F23645"/>
<rect x="855" y="285.3" width="1" height="19.2" fill="#089981"/>
<rect x="854" y="291.2" width="3" height="3.4" fill="#089981"/>
<rect x="859" y="288.1" width="1" height="10.5" fill="#F23645"/>
<rect x="858" y="292.0" width="3" height="3.9" fill="#F23645"/>
<rect x="862" y="286.2" width="1" height="7.3" fill="#089981"/>
<rect x="861" y="286.2" width="3" height="7.3" fill="#089981"/>
<rect x="865" y="286.2" width="1" height="15.1" fill="#F23645"/>
<rect x="864" y="286.2" width="3" height="15.1" fill="#F23645"/>
<rect x="869" y="288.1" width="1" height="15.6" fill="#089981"/>
<rect x="868" y="288.1" width="3" height="13.3" fill="#089981"/>
<rect x="872" y="284.9" width="1" height="15.6" fill="#089981"/>
<rect x="871" y="286.5" width="3" height="3.1" fill="#089981"/>
<rect x="876" y="279.2" width="1" height="10.8" fill="#F23645"/>
<rect x="875" y="286.8" width="3" height="2.0" fill="#F23645"/>
<rect x="879" y="265.0" width="1" height="24.7" fill="#089981"/>
<rect x="878" y="265.0" width="3" height="24.7" fill="#089981"/>
<rect x="882" y="260.7" width="1" height="12.2" fill="#F23645"/>
<rect x="881" y="265.7" width="3" height="1.0" fill="#F23645"/>
<rect x="886" y="263.1" width="1" height="5.9" fill="#089981"/>
<rect x="885" y="263.1" width="3" height="4.4" fill="#089981"/>
<rect x="889" y="228.1" width="1" height="25.6" fill="#089981"/>
<rect x="888" y="230.6" width="3" height="20.2" fill="#089981"/>
<rect x="893" y="195.0" width="1" height="38.7" fill="#089981"/>
<rect x="892" y="198.7" width="3" height="32.9" fill="#089981"/>
<rect x="896" y="191.0" width="1" height="24.9" fill="#F23645"/>
<rect x="895" y="198.7" width="3" height="14.0" fill="#F23645"/>
<rect x="900" y="206.9" width="1" height="28.7" fill="#F23645"/>
<rect x="899" y="211.9" width="3" height="12.7" fill="#F23645"/>
<rect x="903" y="218.1" width="1" height="11.5" fill="#089981"/>
<rect x="902" y="223.3" width="3" height="1.0" fill="#089981"/>
<rect x="906" y="221.8" width="1" height="4.7" fill="#F23645"/>
<rect x="905" y="222.8" width="3" height="3.7" fill="#F23645"/>
<rect x="910" y="226.0" width="1" height="16.5" fill="#F23645"/>
<rect x="909" y="226.0" width="3" height="16.5" fill="#F23645"/>
<rect x="913" y="223.1" width="1" height="21.6" fill="#089981"/>
<rect x="912" y="225.0" width="3" height="16.9" fill="#089981"/>
<rect x="917" y="221.0" width="1" height="8.6" fill="#F23645"/>
<rect x="916" y="225.0" width="3" height="2.2" fill="#F23645"/>
<rect x="920" y="213.1" width="1" height="15.6" fill="#089981"/>
<rect x="919" y="216.2" width="3" height="10.6" fill="#089981"/>
<rect x="923" y="205.0" width="1" height="11.6" fill="#089981"/>
<rect x="922" y="213.1" width="3" height="3.5" fill="#089981"/>
<rect x="927" y="207.7" width="1" height="6.0" fill="#089981"/>
<rect x="926" y="208.7" width="3" height="5.0" fill="#089981"/>
<rect x="930" y="209.0" width="1" height="5.7" fill="#F23645"/>
<rect x="929" y="209.0" width="3" height="3.7" fill="#F23645"/>
<rect x="934" y="218.0" width="1" height="26.8" fill="#F23645"/>
<rect x="933" y="223.2" width="3" height="21.6" fill="#F23645"/>
<rect x="937" y="215.0" width="1" height="20.9" fill="#F23645"/>
<rect x="936" y="224.2" width="3" height="11.7" fill="#F23645"/>
<rect x="941" y="228.2" width="1" height="17.8" fill="#089981"/>
<rect x="940" y="229.0" width="3" height="6.9" fill="#089981"/>
<rect x="944" y="228.2" width="1" height="9.7" fill="#F23645"/>
<rect x="943" y="228.2" width="3" height="9.7" fill="#F23645"/>
<rect x="947" y="230.9" width="1" height="23.8" fill="#F23645"/>
<rect x="946" y="237.1" width="3" height="15.5" fill="#F23645"/>
<rect x="951" y="247.2" width="1" height="7.5" fill="#089981"/>
<rect x="950" y="247.2" width="3" height="7.5" fill="#089981"/>
<line x1="10" y1="247.5" x2="1199" y2="247.5" stroke="#089981" stroke-width="1" stroke-dasharray="1 2"/>
<rect x="11" y="363" width="1188" height="40" fill="#F23645" fill-opacity="0.17"/>
<rect x="11" y="515" width="1188" height="43" fill="#2962FF" fill-opacity="0.175"/>
<rect x="882" y="117" width="182" height="76" fill="#F23645" fill-opacity="0.1"/>
<rect x="882" y="117" width="182" height="1" fill="#F23645" fill-opacity="0.1"/>
<rect x="882" y="220" width="182" height="1" fill="#089981" fill-opacity="0.1"/>
<rect x="882" y="291" width="182" height="1" fill="#089981" fill-opacity="0.1"/>
<rect x="882" y="193" width="182" height="99" fill="#089981" fill-opacity="0.1"/>
<rect x="896" y="193" width="168" height="54" fill="#089981" fill-opacity="0.1"/>
<rect x="882" y="220" width="182" height="84" fill="#089981" fill-opacity="0.1"/>
<rect x="882" y="304" width="182" height="72" fill="#F23645" fill-opacity="0.2"/>
<rect x="882" y="193" width="182" height="1" fill="#787B86"/>
<rect x="882" y="304" width="182" height="1" fill="#787B86"/>
<line x1="10" y1="362.5" x2="1199" y2="362.5" stroke="#000" stroke-width="1" stroke-dasharray="1 2"/>
<line x1="10" y1="403.5" x2="1199" y2="403.5" stroke="#000" stroke-width="1" stroke-dasharray="1 2"/>
<line x1="10" y1="514.5" x2="1199" y2="514.5" stroke="#000" stroke-width="1" stroke-dasharray="1 2"/>
<line x1="896.5" y1="193.5" x2="951.5" y2="247.5" stroke="#787b86" stroke-width="1" stroke-dasharray="5 6" shape-rendering="auto"/>
<line x1="950.3" y1="243.6" x2="951.3" y2="240" stroke="#787b86" stroke-width="1.3" shape-rendering="auto"/>
<rect x="943" y="247" width="6" height="1" fill="#787b86"/>
</svg></div>
<div style="position:absolute;left:10px;top:362px;width:1px;height:1px;background:#000;opacity:.55"></div>
<div style="position:absolute;left:10px;top:403px;width:1px;height:1px;background:#000;opacity:.55"></div>
<div style="position:absolute;left:10px;top:514px;width:1px;height:1px;background:#000;opacity:.55"></div>
<div style="position:absolute;left:10px;top:247px;width:1px;height:1px;background:#089981;opacity:.55"></div>
<div id="axis">
<div class="pl" style="top:26.0px">27.600,00</div>
<div class="pl" style="top:69.5px">27.400,00</div>
<div class="pl" style="top:114.7px">27.200,00</div>
<div class="pl" style="top:203.0px">26.800,00</div>
<div class="pl" style="top:249.5px">26.600,00</div>
<div class="pl" style="top:295.0px">26.400,00</div>
<div class="pl" style="top:412.7px">25.890,00</div>
<div class="pl" style="top:450.2px">25.730,00</div>
<div class="pl" style="top:483.3px">25.600,00</div>
<div class="pl" style="top:514.5px">25.460,00</div>
<div class="bl" style="top:81px;background:#F23645">27.350,46</div>
<div class="bl" style="top:157px;background:#787B86">27.007,42</div>
<div class="bl" style="top:184px;background:#089981">26.887,20</div>
<div class="bl" style="top:211px;background:#089981">26.766,72</div>
<div class="bl" style="top:255px;background:#089981">26.572,55</div>
<div class="bl" style="top:272px;background:#787B86">26.517,16</div>
<div class="bl" style="top:326px;background:#000">26.265,85</div>
<div class="bl" style="top:343px;background:#2962FF">26.255,74</div>
<div class="bl" style="top:360px;background:#F23645">26.206,52</div>
<div class="bl" style="top:377px;background:#000">26.089,02</div>
<div class="bl" style="top:478px;background:#000">25.614,05</div>
</div>
<div id="cur"><span>HKD</span></div>
<div class="tl" style="left:90.7px">16</div>
<div class="tl" style="left:179.2px">20</div>
<div class="tl" style="left:268.2px">22</div>
<div class="tl" style="left:357.5px">24</div>
<div class="tl" style="left:446px">28</div>
<div class="tl" style="left:579.2px">Nov</div>
<div class="tl" style="left:668px">5</div>
<div class="tl" style="left:756.1px">7</div>
<div class="tl" style="left:844.9px">11</div>
<div class="tl" style="left:933.6px">13</div>
<div class="tl" style="left:1035.9px">17</div>
<div class="tl" style="left:1138.7px">19</div>
<svg id="logo" width="60" height="646" viewBox="0 0 60 646"><g fill="#131313">
<path d="M12 608 H24 V622.7 H18 V613.7 H12 Z"/>
<circle cx="29" cy="611" r="2.9"/>
<path d="M34.5 608 H42 L36 622.7 H29.2 Z"/>
</g></svg>
<div id="lt">
<span style="left:49.08px;transform:scaleX(0.8667)">T</span>
<span style="left:59.36px;transform:scaleX(1.0417)">r</span>
<span style="left:66.88px;transform:scaleX(0.9926)">a</span>
<span style="left:78.31px;transform:scaleX(1.1230)">d</span>
<span style="left:91.25px;transform:scaleX(0.8362)">i</span>
<span style="left:95.42px;transform:scaleX(1.0030)">n</span>
<span style="left:108.44px;transform:scaleX(1.0937)">g</span>
<span style="left:120.87px;transform:scaleX(1.0538)">V</span>
<span style="left:134.95px;transform:scaleX(0.8362)">i</span>
<span style="left:139.14px;transform:scaleX(1.1500)">e</span>
<span style="left:152.00px;transform:scaleX(1.1125)">w</span>
</div>
</body></html>
